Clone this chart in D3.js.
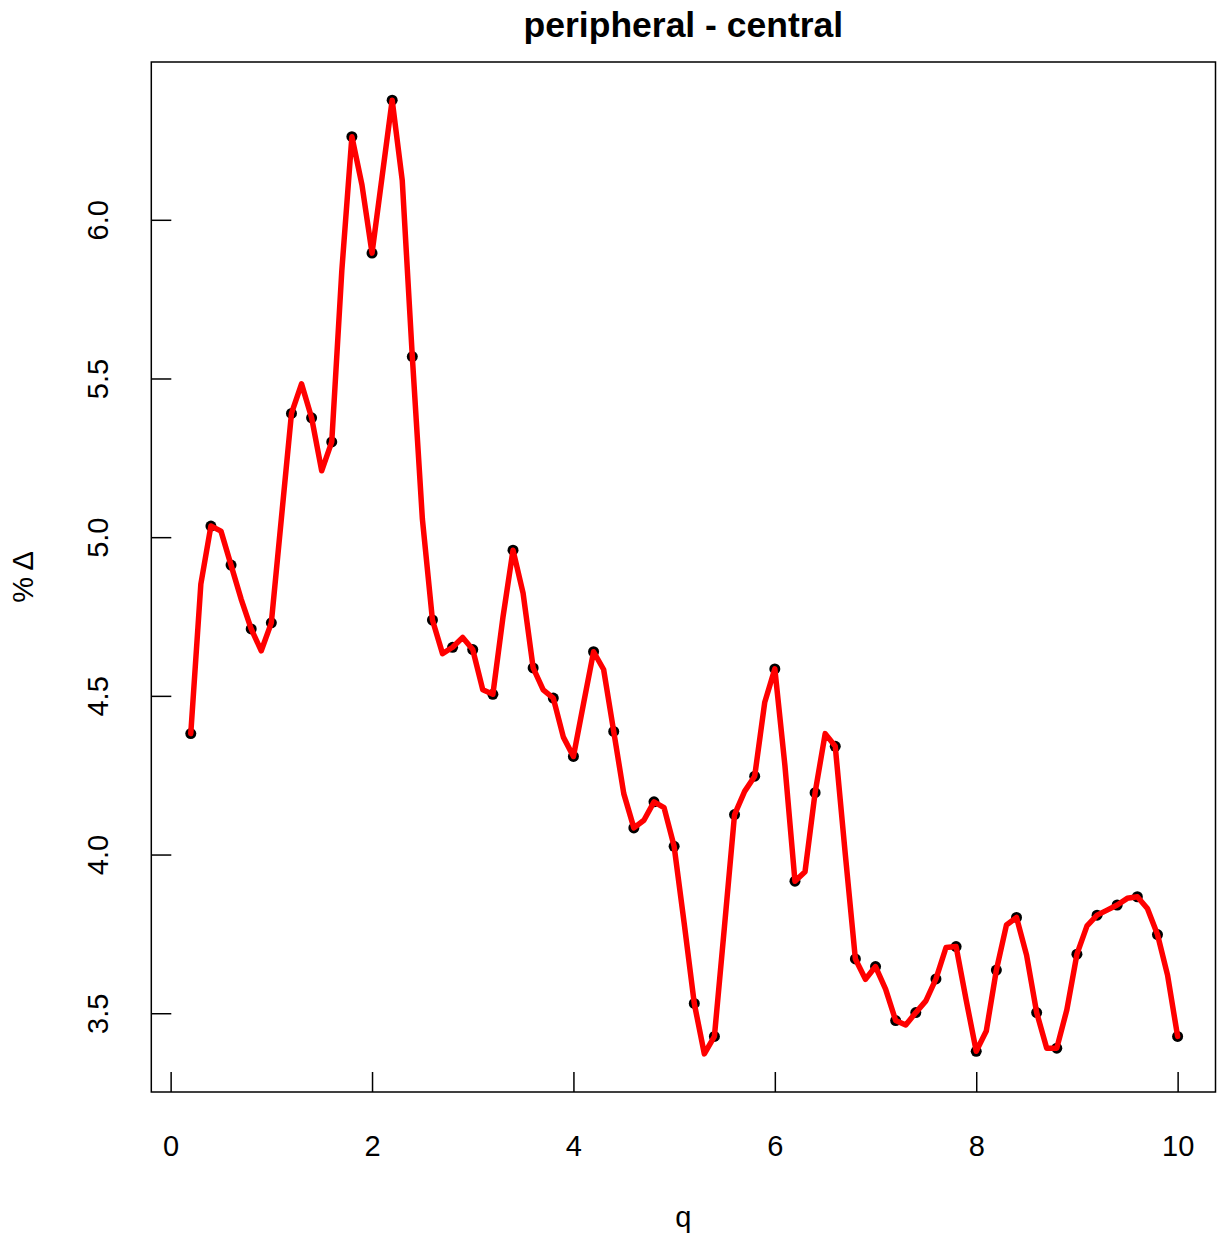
<!DOCTYPE html>
<html lang="en">

<head>
	<meta charset="utf-8">
	<title>peripheral - central</title>
	<script type="text/javascript" src="https://cdn.jsdelivr.net/npm/d3@7"></script>
	<style type="text/css">
		body {
			margin: 0;
			background: white;
		}

		text {
			font-family: "Liberation Sans", Arial, sans-serif;
			fill: black;
		}

		.axis line {
			stroke: black;
			stroke-width: 1.5;
		}

		.axis text {
			font-size: 29px;
		}
	</style>
</head>

<body>
	<script type="text/javascript">
		//Width and height
		var w = 1217;
		var h = 1239;

		// plot frame (R style margins)
		var plotLeft = 151.3;
		var plotRight = 1217.1;
		var frameRight = 1215.5;
		var plotTop = 62;
		var plotBottom = 1092;

		// q grid, every 0.1
		var qValues = [
			0.2, 0.3, 0.4, 0.5, 0.6, 0.7, 0.8, 0.9, 1.0, 1.1,
			1.2, 1.3, 1.4, 1.5, 1.6, 1.7, 1.8, 1.9, 2.0, 2.1,
			2.2, 2.3, 2.4, 2.5, 2.6, 2.7, 2.8, 2.9, 3.0, 3.1,
			3.2, 3.3, 3.4, 3.5, 3.6, 3.7, 3.8, 3.9, 4.0, 4.1,
			4.2, 4.3, 4.4, 4.5, 4.6, 4.7, 4.8, 4.9, 5.0, 5.1,
			5.2, 5.3, 5.4, 5.5, 5.6, 5.7, 5.8, 5.9, 6.0, 6.1,
			6.2, 6.3, 6.4, 6.5, 6.6, 6.7, 6.8, 6.9, 7.0, 7.1,
			7.2, 7.3, 7.4, 7.5, 7.6, 7.7, 7.8, 7.9, 8.0, 8.1,
			8.2, 8.3, 8.4, 8.5, 8.6, 8.7, 8.8, 8.9, 9.0, 9.1,
			9.2, 9.3, 9.4, 9.5, 9.6, 9.7, 9.8, 9.9, 10.0
		];

		// % delta, peripheral - central
		var deltaValues = [
			4.381, 4.852, 5.035, 5.019, 4.912, 4.805, 4.711, 4.642, 4.730, 5.060,
			5.390, 5.483, 5.376, 5.209, 5.300, 5.840, 6.262, 6.110, 5.895, 6.136,
			6.377, 6.124, 5.569, 5.057, 4.739, 4.633, 4.653, 4.684, 4.646, 4.519,
			4.505, 4.747, 4.959, 4.824, 4.588, 4.519, 4.493, 4.370, 4.309, 4.475,
			4.639, 4.583, 4.388, 4.192, 4.084, 4.108, 4.166, 4.148, 4.026, 3.783,
			3.531, 3.372, 3.427, 3.773, 4.126, 4.199, 4.247, 4.480, 4.585, 4.281,
			3.916, 3.946, 4.195, 4.381, 4.341, 4.000, 3.671, 3.607, 3.647, 3.576,
			3.477, 3.463, 3.502, 3.539, 3.608, 3.707, 3.710, 3.542, 3.380, 3.444,
			3.636, 3.778, 3.802, 3.683, 3.502, 3.390, 3.390, 3.511, 3.686, 3.775,
			3.809, 3.825, 3.841, 3.862, 3.867, 3.830, 3.748, 3.620, 3.427
		];

		var xTicks = [0, 2, 4, 6, 8, 10];
		var yTicks = [3.5, 4.0, 4.5, 5.0, 5.5, 6.0];

		var dataset = qValues.map(function (q, i) {
			return [q, deltaValues[i]];
		});
		// black dots only at every 0.2
		var dotset = dataset.filter(function (d, i) {
			return i % 2 == 0;
		});

		// R style 4% padding
		var xExt = d3.extent(qValues);
		var yExt = d3.extent(deltaValues);
		var xPad = (xExt[1] - xExt[0]) * 0.04;
		var yPad = (yExt[1] - yExt[0]) * 0.04;

		var xScale = d3.scaleLinear()
			.domain([xExt[0] - xPad, xExt[1] + xPad])
			.range([plotLeft, plotRight]);

		var yScale = d3.scaleLinear()
			.domain([yExt[0] - yPad, yExt[1] + yPad])
			.range([plotBottom, plotTop]);

		var xAxis = d3.axisBottom()
			.scale(xScale)
			.tickValues(xTicks)
			.tickSizeInner(-20)
			.tickSizeOuter(0)
			.tickFormat(d3.format("d"));

		var yAxis = d3.axisLeft()
			.scale(yScale)
			.tickValues(yTicks)
			.tickSizeInner(-20)
			.tickSizeOuter(0)
			.tickFormat(d3.format(".1f"));

		//Create SVG element
		var svg = d3.select("body")
			.append("svg")
			.attr("width", w)
			.attr("height", h);

		// dots first, line drawn over them
		svg.selectAll("circle")
			.data(dotset)
			.enter()
			.append("circle")
			.attr("cx", function (d) {
				return xScale(d[0]);
			})
			.attr("cy", function (d) {
				return yScale(d[1]);
			})
			.attr("r", 5.5)
			.attr("fill", "black");

		var line = d3.line()
			.x(function (d) { return xScale(d[0]); })
			.y(function (d) { return yScale(d[1]); });

		svg.append("path")
			.datum(dataset)
			.attr("d", line)
			.attr("fill", "none")
			.attr("stroke", "#ff0000")
			.attr("stroke-width", 5.5)
			.attr("stroke-linejoin", "round")
			.attr("stroke-linecap", "round");

		// x axis
		var gx = svg.append("g")
			.attr("class", "axis")
			.attr("transform", "translate(0," + plotBottom + ")")
			.call(xAxis);
		gx.select(".domain").remove();
		gx.selectAll("text")
			.attr("dy", null)
			.attr("y", 64);

		// y axis, labels rotated like R
		var gy = svg.append("g")
			.attr("class", "axis")
			.attr("transform", "translate(" + plotLeft + ",0)")
			.call(yAxis);
		gy.select(".domain").remove();
		gy.selectAll("text")
			.attr("x", null)
			.attr("dy", null)
			.attr("text-anchor", "middle")
			.attr("transform", "translate(-43,0) rotate(-90)");

		// box
		svg.append("rect")
			.attr("x", plotLeft)
			.attr("y", plotTop)
			.attr("width", frameRight - plotLeft)
			.attr("height", plotBottom - plotTop)
			.attr("fill", "none")
			.attr("stroke", "black")
			.attr("stroke-width", 1.5);

		// title and labels
		var cx = (plotLeft + frameRight) / 2;

		svg.append("text")
			.attr("x", cx)
			.attr("y", 37)
			.attr("text-anchor", "middle")
			.attr("font-size", "35.5px")
			.attr("font-weight", "bold")
			.text("peripheral - central");

		svg.append("text")
			.attr("x", cx)
			.attr("y", 1227)
			.attr("text-anchor", "middle")
			.attr("font-size", "29px")
			.text("q");

		svg.append("text")
			.attr("transform", "translate(33," + ((plotTop + plotBottom) / 2) + ") rotate(-90)")
			.attr("text-anchor", "middle")
			.attr("font-size", "29px")
			.text("% \u0394");

	</script>
</body>

</html>
